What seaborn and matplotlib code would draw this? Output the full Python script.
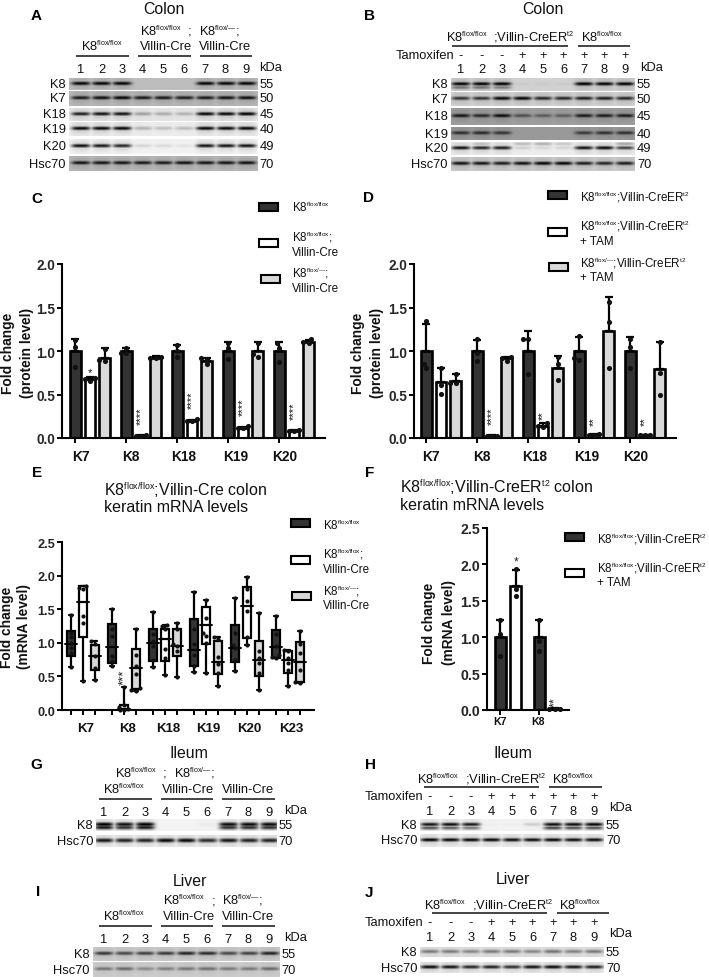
import numpy as np
import pandas as pd
import matplotlib
matplotlib.use("Agg")
import matplotlib.pyplot as plt
import matplotlib._mathtext as mathtext_internals
from matplotlib.patches import Rectangle
import seaborn as sns

# Superscripts in the reference are much smaller than the mathtext default
mathtext_internals.SHRINK_FACTOR = 0.55

sns.set_style("white")
plt.rcParams["font.family"] = ["Liberation Sans", "DejaVu Sans"]
plt.rcParams["mathtext.fontset"] = "custom"
plt.rcParams["mathtext.rm"] = "Liberation Sans"
plt.rcParams["mathtext.default"] = "regular"

FF = "K8$^{flox/flox}$"
FD = "K8$^{flox/\u2014}$;"
FFD = "K8$^{flox/\u2014}$;"
CRE = "Villin-Cre"
ERT = "Villin-CreER$^{t2}$"

# ---- data: bar panels ----
SERIES = ["ctrl", "ko", "het"]
COLORS = {"ctrl": "#333333", "ko": "#ffffff", "het": "#d9d9d9"}

C_GROUPS = ["K7", "K8", "K18", "K19", "K20"]
C_MEANS = {"ctrl": [1.0, 1.0, 1.0, 1.0, 1.0],
           "ko": [0.68, 0.02, 0.20, 0.12, 0.08],
           "het": [0.92, 0.92, 0.89, 1.0, 1.10]}
C_TOPS = {"ctrl": [1.14, 1.04, 1.07, 1.10, 1.10],
          "ko": [0.70, 0.03, 0.21, 0.13, 0.09],
          "het": [1.03, 0.94, 0.92, 1.10, 1.13]}
C_POINTS = {"ctrl": [[1.13, 1.05, 0.82], [1.04, 0.98, 0.98], [1.07, 1.0, 0.93], [1.09, 1.03, 0.91], [1.09, 1.04, 0.87]],
            "ko": [[0.69, 0.68, 0.66], [0.03, 0.02, 0.02], [0.22, 0.20, 0.20], [0.14, 0.12, 0.11], [0.09, 0.08, 0.08]],
            "het": [[1.02, 0.90, 0.89], [0.93, 0.92, 0.92], [0.92, 0.91, 0.85], [1.09, 0.96, 0.93], [1.14, 1.10, 1.09]]}
C_STARS = {"ko": ["*", "****", "****", "****", "****"]}
C_STAR_Y = [0.70, 0.16, 0.35, 0.26, 0.22]

D_MEANS = {"ctrl": [1.0, 1.0, 1.0, 1.0, 1.0],
           "ko": [0.64, 0.02, 0.14, 0.04, 0.03],
           "het": [0.66, 0.92, 0.81, 1.23, 0.79]}
D_TOPS = {"ctrl": [1.31, 1.13, 1.23, 1.16, 1.16],
          "ko": [0.80, 0.03, 0.17, 0.05, 0.04],
          "het": [0.74, 0.93, 0.94, 1.62, 1.10]}
D_POINTS = {"ctrl": [[1.35, 0.85, 0.80], [1.14, 0.98, 0.89], [1.14, 1.14, 0.73], [1.17, 0.92, 0.90], [1.14, 1.05, 0.81]],
            "ko": [[0.80, 0.61, 0.51], [0.02, 0.02, 0.02], [0.17, 0.14, 0.13], [0.05, 0.04, 0.03], [0.04, 0.03, 0.03]],
            "het": [[0.74, 0.63, 0.63], [0.93, 0.92, 0.89], [0.93, 0.85, 0.67], [1.56, 1.33, 0.81], [1.10, 0.75, 0.50]]}
D_STARS = {"ko": ["", "****", "**", "**", "**"]}
D_STAR_Y = [0, 0.16, 0.22, 0.15, 0.15]

F_GROUPS = ["K7", "K8"]
F_MEANS = {"ctrl": [1.0, 1.0], "ko": [1.71, 0.02]}
F_TOPS = {"ctrl": [1.23, 1.23], "ko": [1.92, 0.03]}
F_POINTS = {"ctrl": [[1.23, 1.05, 0.74], [1.24, 0.95, 0.81]],
            "ko": [[1.93, 1.66, 1.56], [0.02, 0.02, 0.02]]}

# ---- data: box panel E, (low, q1, median, q3, high) per group ----
E_GROUPS = ["K7", "K8", "K18", "K19", "K20", "K23"]
E_BOXES = {"ctrl": [[.64, .80, .98, 1.17, 1.42], [.66, .70, .94, 1.28, 1.51], [.64, .73, 1.0, 1.20, 1.46],
                    [.56, .65, .89, 1.35, 1.76], [.58, .71, .92, 1.27, 1.67], [.77, .77, .94, 1.19, 1.40]],
           "ko": [[.43, 1.09, 1.60, 1.84, 1.85], [0, 0, .02, .07, .34], [.52, .73, 1.05, 1.21, 1.26],
                  [.55, .98, 1.26, 1.53, 1.64], [.96, 1.07, 1.55, 1.83, 1.98], [.35, .55, .74, .88, .89]],
           "het": [[.44, .60, .81, .96, 1.02], [.29, .31, .63, .91, 1.21], [.49, .81, .95, 1.20, 1.29],
                   [.35, .53, .72, 1.02, 1.08], [.30, .50, .75, 1.02, 1.45], [.40, .41, .72, 1.01, 1.17]]}
E_POINTS = {"ctrl": [[.64, .85, .93, 1.0, 1.08, 1.15, 1.42], [.66, .73, .8, 1.1, 1.2, 1.51], [.64, .75, .95, 1.02, 1.13, 1.46],
                     [.56, .65, .82, .98, 1.2, 1.76], [.58, .75, .92, .97, 1.15, 1.67], [.77, .79, .82, .95, 1.13, 1.4]],
            "ko": [[.43, 1.3, 1.4, 1.8, 1.82, 1.85], [0, 0, .02, .04, .07, .34], [.52, .78, .91, 1.2, 1.25, 1.26],
                   [.55, 1.0, 1.1, 1.15, 1.37, 1.64], [.96, 1.09, 1.48, 1.62, 1.8, 1.98], [.35, .6, .7, .77, .88, .89]],
            "het": [[.44, .63, .8, .98, 1.02], [.29, .3, .32, .53, .65, .82, 1.21], [.49, .88, .95, .98, 1.2, 1.29],
                    [.35, .55, .68, .79, 1.05, 1.08], [.3, .55, .7, .77, .88, 1.45], [.4, .41, .6, .85, .98, 1.17]]}

# ---- data: blots, band strength per lane ----
A_ROWS = ["K8", "K7", "K18", "K19", "K20", "Hsc70"]
A_KDA = ["55", "50", "45", "40", "49", "70"]
A_BANDS = [[.95, .95, .95, 0, 0, 0, .95, .95, .95],
           [.85, .9, .95, .85, .85, .82, .85, .9, .9],
           [.85, .9, .9, .3, .25, .22, .95, .95, .98],
           [.95, .95, .95, .25, .2, .2, .95, .95, .95],
           [.92, .88, .82, .12, .1, .06, .9, .9, .9],
           [.88, .88, .88, .85, .85, .88, .88, .88, .9]]
A_BG = [.74, .72, .9, .93, .95, .72]

B_BANDS = [[.97, .97, .98, .03, .03, .03, .98, .97, .97],
           [.75, .75, .95, .95, .8, .8, .85, .85, .8],
           [.85, .75, .9, .5, .42, .42, .82, .82, .82],
           [.7, .72, .65, 0, 0, 0, .62, .68, .68],
           [.9, .82, .85, .12, .1, .1, .9, .93, .7],
           [.9, .88, .85, .9, .95, .95, .85, .8, .85]]
B_BG = [.82, .82, .62, .6, .93, .8]
B_SECOND = {0: (3.5, [.45, .45, .4, 0, 0, 0, 0, 0, 0]),
            4: (-4, [.1, .2, .1, .2, .25, .15, 0, 0, .3])}

G_ROWS = ["K8", "Hsc70"]
G_KDA = ["55", "70"]
G_BANDS = [[1, .92, 1, 0, 0, .03, .95, .95, .95], [.9, .85, .85, .95, .95, .8, .9, .85, .85]]
G_BG = [.95, .93]
G_SECOND = {0: (3, [.9, .8, .9, 0, 0, 0, .8, .8, .8])}

H_BANDS = [[.9, .93, .88, .02, .03, .15, .93, .93, .96], [.97, .95, .95, .95, .92, .92, .95, .92, .92]]
H_BG = [.95, .94]
H_SECOND = {0: (3.5, [.65, .6, .5, 0, 0, 0, .7, .65, .65])}

I_BANDS = [[.72, .65, .68, .72, .82, .78, .65, .68, .82], [.42, .48, .32, .38, .42, .45, .4, .4, .48]]
I_BG = [.8, .8]

J_BANDS = [[.45, .45, .4, .45, .45, .4, .48, .42, .45], [.93, .9, .82, .85, .78, .9, .93, .88, .85]]
J_BG = [.88, .93]

TAM_SIGNS = ["-", "-", "-", "+", "+", "+", "+", "+", "+"]
LANES = ["1", "2", "3", "4", "5", "6", "7", "8", "9"]

fig = plt.figure(figsize=(7.09, 9.78), dpi=100)


def px_axes(x0, y0, x1, y1, **kw):
    return fig.add_axes([x0 / 709, 1 - y1 / 978, (x1 - x0) / 709, (y1 - y0) / 978], **kw)


# overlay in pixel coordinates for all the labels
ov = px_axes(0, 0, 709, 978, zorder=10)
ov.set_xlim(0, 709)
ov.set_ylim(978, 0)
ov.axis("off")
ov.patch.set_alpha(0)


def txt(x, y, s, size=9.3, ha="left", va="center", **kw):
    ov.text(x, y, s, fontsize=size, ha=ha, va=va, color=kw.pop("color", "#111111"), **kw)


def draw_blot(x0, lane0, spacing, row_y, names, kda, bands, bgs, second=None, thick=1.9):
    second = second or {}
    x1 = lane0 + 8 * spacing + (lane0 - x0)
    for i, (y0, y1) in enumerate(row_y):
        h, w = int(y1 - y0), int(x1 - x0)
        yy = np.arange(h)[:, None] + 0.5
        xx = np.arange(w)[None, :] + 0.5
        dark = np.zeros((h, w))
        layers = [(0, bands[i])]
        if i in second:
            layers.append(second[i])
        for off, strengths in layers:
            for lane, s in enumerate(strengths):
                dx = xx - (lane0 - x0 + lane * spacing)
                shape = np.exp(-(dx / (spacing * 0.46)) ** 4)
                core = np.exp(-((yy - h * 0.45 - off) / thick) ** 2)
                haze = np.exp(-((yy - h * 0.45 - off) / 6.0) ** 2) * 0.15
                dark = np.maximum(dark, s * shape * core)
                dark = np.maximum(dark, s * shape * haze)
        ax = px_axes(x0, y0, x1, y1)
        sns.heatmap(bgs[i] * (1 - dark), cmap="gray", vmin=0, vmax=1, cbar=False,
                    xticklabels=False, yticklabels=False, ax=ax)
        mid = (y0 + y1) / 2
        txt(x0 - 3, mid, names[i], ha="right")
        txt(x1 + 2, mid, kda[i])


def lane_labels(lane0, spacing, y, kda_x, kda_y, signs_y=None):
    for i, lab in enumerate(LANES):
        txt(lane0 + i * spacing, y, lab, ha="center")
        if signs_y is not None:
            txt(lane0 + i * spacing, signs_y, TAM_SIGNS[i], ha="center")
    txt(kda_x, kda_y, "kDa")


def rules(y, spans):
    for a, b in spans:
        ov.plot([a, b], [y, y], color="#111111", lw=1.1, solid_capstyle="butt")


def bar_panel(rect, xlim, groups, series, means, tops, points, step, ymax, width=0.72, stars=None, star_y=None):
    ax = px_axes(*rect)
    n = len(series)
    bars, dots = [], []
    for si, s in enumerate(series):
        for gi in range(len(groups)):
            pos = round(gi + (si - (n - 1) / 2) * step, 3)
            bars.append({"pos": pos, "series": s, "mean": means[s][gi], "top": tops[s][gi]})
            for v in points[s][gi]:
                dots.append({"pos": pos, "v": v})
    bars = pd.DataFrame(bars)
    dots = pd.DataFrame(dots)
    sns.barplot(data=bars, x="pos", y="mean", hue="series", hue_order=series, palette=COLORS,
                native_scale=True, dodge=False, width=width, errorbar=None, edgecolor="black",
                linewidth=1.9, legend=False, ax=ax)
    ax.errorbar(bars["pos"], bars["mean"], yerr=[np.zeros(len(bars)), bars["top"] - bars["mean"]],
                fmt="none", ecolor="black", elinewidth=1.6, capsize=2.6, capthick=1.6, zorder=3, clip_on=False)
    sns.swarmplot(data=dots, x="pos", y="v", native_scale=True, color="#111111", size=3.7,
                  warn_thresh=1, zorder=4, clip_on=False, ax=ax)
    style_axis(ax, xlim, ymax, [gi + (0 - (n - 1) / 2) * step for gi in range(len(groups))])
    if stars:
        for gi, st in enumerate(stars["ko"]):
            if st:
                pos = gi + (1 - (n - 1) / 2) * step
                rot = 90 if len(st) > 1 else 0
                ax.text(pos, star_y[gi], st, rotation=rot, ha="center", va="bottom", fontsize=8,
                        color="#111111", clip_on=False)
    return ax


def style_axis(ax, xlim, ymax, ticks, size=9.8):
    ax.set_xlim(*xlim)
    ax.set_ylim(0, ymax)
    ax.set_xticks(ticks)
    ax.set_xticklabels([])
    ax.set_yticks(np.arange(0, ymax + 0.01, 0.5))
    ax.set_yticklabels([f"{v:.1f}" for v in np.arange(0, ymax + 0.01, 0.5)], fontweight="bold", fontsize=size)
    ax.set_xlabel("")
    ax.set_ylabel("")
    ax.tick_params(axis="both", length=3.5, width=1.4, color="black", pad=1.5, left=True, bottom=True)
    sns.despine(ax=ax)
    for sp in ["left", "bottom"]:
        ax.spines[sp].set_linewidth(1.5)
        ax.spines[sp].set_color("black")
    ax.patch.set_alpha(0)


def legend_entry(x, y, color, lines, tx, ty):
    ov.add_patch(Rectangle((x, y - 4), 19, 8, facecolor=color, edgecolor="black", lw=1.5))
    for line, yy in zip(lines, ty):
        txt(tx, yy, line, size=8.4)


def fold_label(x1, x2, y, second):
    txt(x1, y, "Fold change", size=9.9, ha="center", rotation=90, fontweight="bold")
    txt(x2, y, second, size=9.9, ha="center", rotation=90, fontweight="bold")


# ---- A ----
A_Y = [(79, 91), (92, 107), (109, 122), (123, 137), (140, 155), (157, 172)]
draw_blot(69, 81, 20.6, A_Y, A_ROWS, A_KDA, A_BANDS, A_BG)
lane_labels(81, 20.6, 70, 259, 68)
rules(57, [(76, 129), (138, 191), (200, 252)])
txt(164, 9, "Colon", size=11.4, ha="center")
txt(31, 16, "A", size=11, fontweight="bold", color="black")
txt(81, 47, FF)
txt(140, 32, FF)
txt(188, 32, ";")
txt(140, 47, CRE)
txt(199, 32, FD)
txt(199, 47, CRE)

# ---- B ----
B_Y = [(79, 92), (93, 107), (109, 126), (128, 141), (143, 156), (158, 172)]
draw_blot(451, 461, 20.5, B_Y, A_ROWS, A_KDA, B_BANDS, B_BG, B_SECOND)
lane_labels(461, 20.5, 70, 640, 68, signs_y=56)
rules(47, [(452, 568), (578, 630)])
txt(543, 9, "Colon", size=11.4, ha="center")
txt(364, 16, "B", size=11, fontweight="bold", color="black")
txt(446, 38, FF)
txt(493, 38, ";" + ERT)
txt(581, 38, FF)
txt(454, 56, "Tamoxifen", ha="right")

# ---- C ----
bar_panel((62, 265, 325, 439), (-0.549, 4.608), C_GROUPS, SERIES, C_MEANS, C_TOPS, C_POINTS, 0.286, 2.0,
          stars=C_STARS, star_y=C_STAR_Y)
for g, x in zip(C_GROUPS, [81, 131, 184, 236, 285]):
    txt(x, 457, g, size=9.9, ha="center", fontweight="bold")
fold_label(8, 27, 353, "(protein level)")
txt(31, 199, "C", size=11, fontweight="bold", color="black")
legend_entry(259, 208, COLORS["ctrl"], [FF], 292, [208])
legend_entry(259, 244, COLORS["ko"], [FF + ";", CRE], 292, [238, 253])
legend_entry(261, 280, COLORS["het"], [FFD, CRE], 292, [274, 289])

# ---- D ----
bar_panel((414, 265, 676, 439), (-0.53, 4.608), C_GROUPS, SERIES, D_MEANS, D_TOPS, D_POINTS, 0.286, 2.0,
          stars=D_STARS, star_y=D_STAR_Y)
for g, x in zip(C_GROUPS, [431, 482, 535, 587, 636]):
    txt(x, 457, g, size=9.9, ha="center", fontweight="bold")
fold_label(358, 377, 353, "(protein level)")
txt(363, 198, "D", size=11, fontweight="bold", color="black")
legend_entry(548, 196, COLORS["ctrl"], [FF + ";" + ERT], 580, [198])
legend_entry(548, 233, COLORS["ko"], [FF + ";" + ERT, "+ TAM"], 580, [227, 242])
legend_entry(549, 268, COLORS["het"], [FFD + ERT, "+ TAM"], 580, [264, 278])

# ---- E ----
ax_e = px_axes(62, 543, 314, 711)
e_step = 0.285
box_rows, dot_rows, e_ticks, med_rows = [], [], [], []
for si, s in enumerate(SERIES):
    for gi in range(len(E_GROUPS)):
        pos = round(gi + (si - 1) * e_step, 3)
        e_ticks.append(pos)
        med_rows.append((pos, E_BOXES[s][gi][2]))
        for v in E_BOXES[s][gi]:
            box_rows.append({"pos": pos, "series": s, "v": v})
        for v in E_POINTS[s][gi]:
            dot_rows.append({"pos": pos, "v": v})
sns.boxplot(data=pd.DataFrame(box_rows), x="pos", y="v", hue="series", hue_order=SERIES, palette=COLORS,
            native_scale=True, dodge=False, width=0.66, whis=(0, 100), fliersize=0, linecolor="black",
            linewidth=1.6, saturation=1, legend=False, ax=ax_e)
# median lines stick out of the boxes in the original
for pos, med in med_rows:
    ax_e.plot([pos - 0.15, pos + 0.15], [med, med], color="black", lw=1.4, zorder=3)
sns.swarmplot(data=pd.DataFrame(dot_rows), x="pos", y="v", native_scale=True, color="#111111", size=3,
              warn_thresh=1, zorder=4, clip_on=False, ax=ax_e)
style_axis(ax_e, (-0.512, 5.634), 2.5, sorted(e_ticks), size=9.2)
ax_e.text(1, 0.38, "***", rotation=90, ha="center", va="bottom", fontsize=9.5, color="#222222")
for g, x in zip(E_GROUPS, [86, 127, 168, 208, 249, 291]):
    txt(x, 729, g, size=9.5, ha="center", fontweight="bold")
fold_label(7, 24, 627, "(mRNA level)")
txt(32, 473, "E", size=11, fontweight="bold", color="black")
txt(104, 490, FF + ";" + CRE + " colon", size=11.5)
txt(104, 508, "keratin mRNA levels", size=11.5)
legend_entry(291, 524, COLORS["ctrl"], [FF], 323, [526])
legend_entry(291, 561, COLORS["ko"], [FF + ";", CRE], 323, [555, 570])
legend_entry(292, 597, COLORS["het"], [FFD, CRE], 323, [592, 606])

# ---- F ----
ax_f = bar_panel((487, 529, 569, 711), (-0.538, 1.564), F_GROUPS, ["ctrl", "ko"], F_MEANS, F_TOPS, F_POINTS,
                 0.4, 2.5, width=0.7)
ax_f.tick_params(axis="y", labelsize=10.2)
ax_f.text(0.2, 1.96, "*", ha="center", va="bottom", fontsize=8.5, color="#222222")
ax_f.text(1.2, 0.06, "**", rotation=90, ha="center", va="bottom", fontsize=9, color="#222222", clip_on=False)
for g, x in zip(F_GROUPS, [500, 538]):
    txt(x, 722, g, size=7.6, ha="center", fontweight="bold")
fold_label(429, 449, 623, "(mRNA level)")
txt(365, 473, "F", size=11, fontweight="bold", color="black")
txt(400, 487, FF + ";" + ERT + " colon", size=11.5)
txt(400, 506, "keratin mRNA levels", size=11.5)
legend_entry(565, 538, COLORS["ctrl"], [FF + ";" + ERT], 597, [540])
legend_entry(565, 574, COLORS["ko"], [FF + ";" + ERT, "+ TAM"], 597, [569, 583])

# ---- G ----
draw_blot(96, 104, 20.6, [(820, 832), (836, 848)], G_ROWS, G_KDA, G_BANDS, G_BG, G_SECOND, thick=2.2)
lane_labels(104, 20.6, 813, 284, 811)
rules(800, [(99, 152), (161, 213), (222, 275)])
txt(189, 753, "Ileum", size=11.4, ha="center")
txt(30, 765, "G", size=11, fontweight="bold", color="black")
txt(115, 774, FF)
txt(163, 774, ";")
txt(174, 774, FD)
txt(103, 790, FF)
txt(162, 790, CRE)
txt(222, 790, CRE)

# ---- H ----
draw_blot(420, 430, 20.5, [(820, 832), (835, 848)], G_ROWS, G_KDA, H_BANDS, H_BG, H_SECOND)
lane_labels(430, 20.5, 812, 609, 808, signs_y=797)
rules(788, [(424, 539), (549, 602)])
txt(513, 753, "Ileum", size=11.4, ha="center")
txt(365, 765, "H", size=11, fontweight="bold", color="black")
txt(417, 780, FF)
txt(465, 780, ";" + ERT)
txt(552, 780, FF)
txt(423, 797, "Tamoxifen", ha="right")

# ---- I ----
draw_blot(93, 104, 20.6, [(948, 962), (963, 978)], G_ROWS, G_KDA, I_BANDS, I_BG)
lane_labels(104, 20.6, 940, 284, 938)
rules(927, [(99, 152), (161, 213), (222, 275)])
txt(190, 881, "Liver", size=11.4, ha="center")
txt(36, 892, "I", size=11, fontweight="bold", color="black")
txt(163, 901, FF)
txt(212, 901, ";")
txt(222, 901, FD)
txt(103, 917, FF)
txt(163, 917, CRE)
txt(222, 917, CRE)

# ---- J ----
draw_blot(420, 430, 20.5, [(948, 958), (963, 974)], G_ROWS, G_KDA, J_BANDS, J_BG)
lane_labels(430, 20.5, 938, 609, 934, signs_y=923)
rules(914, [(432, 547), (557, 609)])
txt(513, 880, "Liver", size=11.4, ha="center")
txt(365, 893, "J", size=11, fontweight="bold", color="black")
txt(424, 906, FF)
txt(472, 906, ";" + ERT)
txt(559, 906, FF)
txt(423, 923, "Tamoxifen", ha="right")

fig.savefig("out.png", dpi=100)
